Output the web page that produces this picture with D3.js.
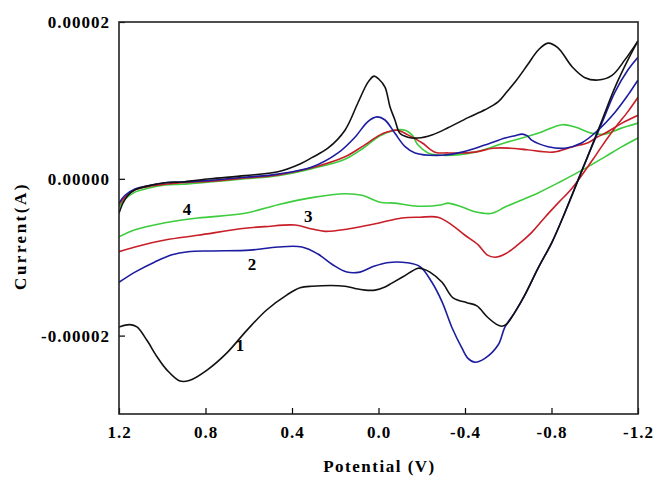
<!DOCTYPE html>
<html>
<head>
<meta charset="utf-8">
<script src="https://cdn.jsdelivr.net/npm/d3@7"></script>
<style>
  html, body { margin: 0; padding: 0; background: #fff; }
  svg { display: block; }
  text { font-family: "Times New Roman", "Liberation Serif", serif; font-weight: bold; fill: #000; }
</style>
</head>
<body>
<script>
// ---- Data (potential in V, current in µA) ----
const xTicks = [1.2, 0.8, 0.4, 0.0, -0.4, -0.8, -1.2];
const yTicks = [2e-5, 0, -2e-5];

const curve1Upper = [[1.200,-4.4],[1.182,-3.1],[1.158,-2.1],[1.126,-1.4],[1.066,-0.9],[0.987,-0.5],[0.909,-0.4],[0.779,0.0],[0.617,0.4],[0.465,0.9],[0.363,1.9],[0.308,2.7],[0.234,3.9],[0.155,6.2],[0.095,9.7],[0.049,12.3],[0.021,13.1],[-0.002,12.7],[-0.030,11.7],[-0.053,9.2],[-0.076,7.5],[-0.099,5.8],[-0.136,5.3],[-0.183,5.2],[-0.247,5.6],[-0.321,6.5],[-0.414,7.8],[-0.492,8.8],[-0.553,9.8],[-0.594,11.1],[-0.636,12.5],[-0.691,14.6],[-0.738,16.4],[-0.784,17.3],[-0.830,16.7],[-0.895,14.3],[-0.955,12.9],[-1.015,12.6],[-1.080,13.2],[-1.140,15.2],[-1.200,17.6]];
const curve1Lower = [[-1.200,17.6],[-1.154,15.2],[-1.094,11.7],[-1.034,7.5],[-0.955,2.0],[-0.853,-4.9],[-0.802,-8.1],[-0.738,-11.4],[-0.677,-14.8],[-0.631,-17.0],[-0.594,-18.5],[-0.571,-18.8],[-0.548,-18.6],[-0.502,-17.6],[-0.455,-16.2],[-0.409,-15.8],[-0.345,-15.2],[-0.294,-13.2],[-0.238,-11.9],[-0.206,-11.5],[-0.183,-11.4],[-0.113,-12.5],[-0.062,-13.3],[-0.030,-13.8],[0.016,-14.2],[0.062,-14.2],[0.109,-14.0],[0.155,-13.7],[0.308,-13.7],[0.363,-13.9],[0.423,-14.8],[0.516,-16.7],[0.608,-19.3],[0.701,-22.2],[0.793,-24.4],[0.872,-25.7],[0.918,-25.8],[0.978,-24.4],[1.024,-22.7],[1.071,-20.6],[1.117,-18.9],[1.149,-18.6],[1.200,-18.9]];

const curve2Upper = [[1.200,-3.1],[1.172,-2.1],[1.126,-1.3],[1.066,-0.9],[0.987,-0.5],[0.909,-0.4],[0.779,-0.2],[0.617,0.2],[0.465,0.6],[0.308,1.5],[0.187,3.3],[0.109,5.3],[0.049,7.3],[0.007,7.9],[-0.030,7.5],[-0.076,5.8],[-0.123,4.1],[-0.169,3.3],[-0.294,3.0],[-0.386,3.4],[-0.492,4.3],[-0.585,5.2],[-0.631,5.5],[-0.664,5.7],[-0.687,5.5],[-0.710,4.9],[-0.784,4.1],[-0.862,3.9],[-0.941,4.6],[-1.015,6.2],[-1.094,8.5],[-1.154,10.7],[-1.200,12.6]];
const curve2Lower = [[-1.200,15.5],[-1.154,13.9],[-1.094,11.1],[-1.034,7.2],[-0.941,1.1],[-0.853,-4.9],[-0.802,-8.1],[-0.738,-11.4],[-0.677,-14.8],[-0.631,-17.0],[-0.585,-18.9],[-0.553,-21.2],[-0.492,-22.9],[-0.446,-23.4],[-0.414,-22.9],[-0.386,-21.6],[-0.340,-19.0],[-0.294,-15.7],[-0.247,-13.2],[-0.192,-11.2],[-0.132,-10.7],[-0.039,-10.7],[0.025,-11.2],[0.086,-11.9],[0.146,-11.9],[0.210,-11.0],[0.280,-9.6],[0.354,-8.7],[0.465,-8.7],[0.594,-9.1],[0.770,-9.2],[0.881,-9.3],[0.955,-9.7],[1.034,-10.6],[1.126,-11.9],[1.200,-13.2]];

const curve3Upper = [[1.200,-3.3],[1.172,-2.3],[1.126,-1.4],[1.066,-1.0],[0.987,-0.7],[0.909,-0.5],[0.779,-0.3],[0.617,0.1],[0.465,0.5],[0.308,1.4],[0.155,2.8],[0.076,4.1],[-0.007,5.6],[-0.044,6.0],[-0.090,6.2],[-0.136,5.6],[-0.201,4.6],[-0.261,3.4],[-0.321,3.3],[-0.446,3.4],[-0.529,3.9],[-0.608,3.9],[-0.687,3.7],[-0.807,3.4],[-0.899,4.1],[-0.969,4.6],[-1.010,5.3],[-1.047,5.8],[-1.126,7.1],[-1.200,8.1]];
const curve3Lower = [[-1.200,10.4],[-1.154,8.6],[-1.094,6.5],[-1.034,4.2],[-0.987,2.3],[-0.895,-1.2],[-0.830,-3.1],[-0.770,-4.9],[-0.710,-6.8],[-0.645,-8.4],[-0.585,-9.6],[-0.539,-10.0],[-0.502,-9.7],[-0.460,-8.4],[-0.400,-7.2],[-0.340,-5.9],[-0.275,-4.9],[-0.192,-4.9],[-0.109,-5.0],[-0.007,-5.6],[0.062,-6.0],[0.141,-6.4],[0.247,-6.7],[0.308,-6.4],[0.386,-5.9],[0.525,-6.1],[0.617,-6.3],[0.835,-7.2],[0.987,-7.8],[1.126,-8.7],[1.200,-9.3]];

const curve4Upper = [[1.200,-3.6],[1.172,-2.6],[1.126,-1.7],[1.066,-1.2],[0.987,-0.8],[0.909,-0.7],[0.779,-0.4],[0.617,0.0],[0.465,0.4],[0.308,1.3],[0.155,2.5],[0.076,3.8],[-0.007,5.5],[-0.076,6.2],[-0.123,6.2],[-0.155,5.6],[-0.183,4.3],[-0.229,3.3],[-0.294,3.0],[-0.446,3.4],[-0.585,4.6],[-0.738,5.8],[-0.849,6.9],[-0.909,6.6],[-0.987,5.8],[-1.047,5.7],[-1.117,6.4],[-1.200,7.1]];
const curve4Lower = [[-1.200,5.2],[-1.126,4.1],[-1.047,2.8],[-0.941,1.1],[-0.839,-0.4],[-0.738,-1.8],[-0.654,-2.8],[-0.585,-3.6],[-0.525,-4.4],[-0.446,-4.2],[-0.386,-3.6],[-0.321,-3.1],[-0.294,-3.3],[-0.183,-3.5],[-0.076,-3.1],[-0.007,-3.0],[0.076,-2.1],[0.155,-1.9],[0.308,-2.4],[0.465,-3.3],[0.617,-4.4],[0.835,-5.0],[0.987,-5.6],[1.126,-6.5],[1.200,-7.4]];

const curveNames = ["1", "2", "3", "4"];
const curveColors = ["#111111", "#1c1ca0", "#c81e28", "#3ccc3c"];
// label anchors (V, µA)
const labelAnchors = [[0.640,-21.2],[0.585,-10.9],[0.325,-4.7],[0.886,-3.9]];

// ---- Chart ----
const W = 656, H = 477;
const L = 119, R = 638, T = 22, B = 414;

const svg = d3.select("body").append("svg").attr("width", W).attr("height", H);

const x = d3.scaleLinear().domain([1.2, -1.2]).range([L, R]);
const y = d3.scaleLinear().domain([-3e-5, 2e-5]).range([B, T]);

const line = d3.line()
  .x(d => x(d[0]))
  .y(d => y(d[1] * 1e-6))
  .curve(d3.curveCatmullRom.alpha(0.5));

const series = [
  [curve1Upper, curve1Lower],
  [curve2Upper, curve2Lower],
  [curve3Upper, curve3Lower],
  [curve4Upper, curve4Lower]
];

svg.append("clipPath").attr("id", "plotclip")
  .append("rect").attr("x", L).attr("y", T).attr("width", R - L).attr("height", B - T);

const gLines = svg.append("g").attr("clip-path", "url(#plotclip)");
// draw in order 4,3,2,1 so black on top
[3, 2, 1, 0].forEach(k => {
  series[k].forEach(branch => {
    gLines.append("path")
      .attr("d", line(branch))
      .attr("fill", "none")
      .attr("stroke", curveColors[k])
      .attr("stroke-width", 1.6)
      .attr("stroke-linejoin", "round");
  });
});

// axes
const xAxis = d3.axisBottom(x).tickValues(xTicks).tickSize(-6).tickPadding(12)
  .tickFormat(d => d.toFixed(1));
const yAxis = d3.axisLeft(y).tickValues(yTicks).tickSize(-6).tickPadding(9)
  .tickFormat(d => d.toFixed(5));

const gx = svg.append("g").attr("transform", `translate(0,${B})`).call(xAxis);
const gy = svg.append("g").attr("transform", `translate(${L},0)`).call(yAxis);
[gx, gy].forEach(g => {
  g.select(".domain").remove();
  g.selectAll(".tick line").attr("stroke", "#000").attr("stroke-width", 1.2);
  g.selectAll(".tick text")
    .attr("fill", "#000")
    .style("font-family", "'Times New Roman', 'Liberation Serif', serif")
    .style("font-weight", "bold")
    .style("font-size", "17px")
    .style("letter-spacing", "1px");
});

// frame
svg.append("rect")
  .attr("x", L).attr("y", T).attr("width", R - L).attr("height", B - T)
  .attr("fill", "none").attr("stroke", "#222").attr("stroke-width", 1.6);

// curve labels
svg.selectAll(".clabel").data(curveNames).enter().append("text")
  .attr("class", "clabel")
  .attr("x", (d, i) => x(labelAnchors[i][0]))
  .attr("y", (d, i) => y(labelAnchors[i][1] * 1e-6))
  .attr("dy", "0.35em")
  .attr("text-anchor", "middle")
  .style("font-size", "17px")
  .text(d => d);

// axis titles
svg.append("text")
  .attr("x", (L + R) / 2 + 1).attr("y", 472)
  .attr("text-anchor", "middle")
  .style("font-size", "17px")
  .style("letter-spacing", "1.5px")
  .text("Potential (V)");

svg.append("text")
  .attr("transform", "translate(26,236) rotate(-90)")
  .attr("text-anchor", "middle")
  .style("font-size", "17px")
  .style("letter-spacing", "2.5px")
  .text("Current(A)");
</script>
</body>
</html>
